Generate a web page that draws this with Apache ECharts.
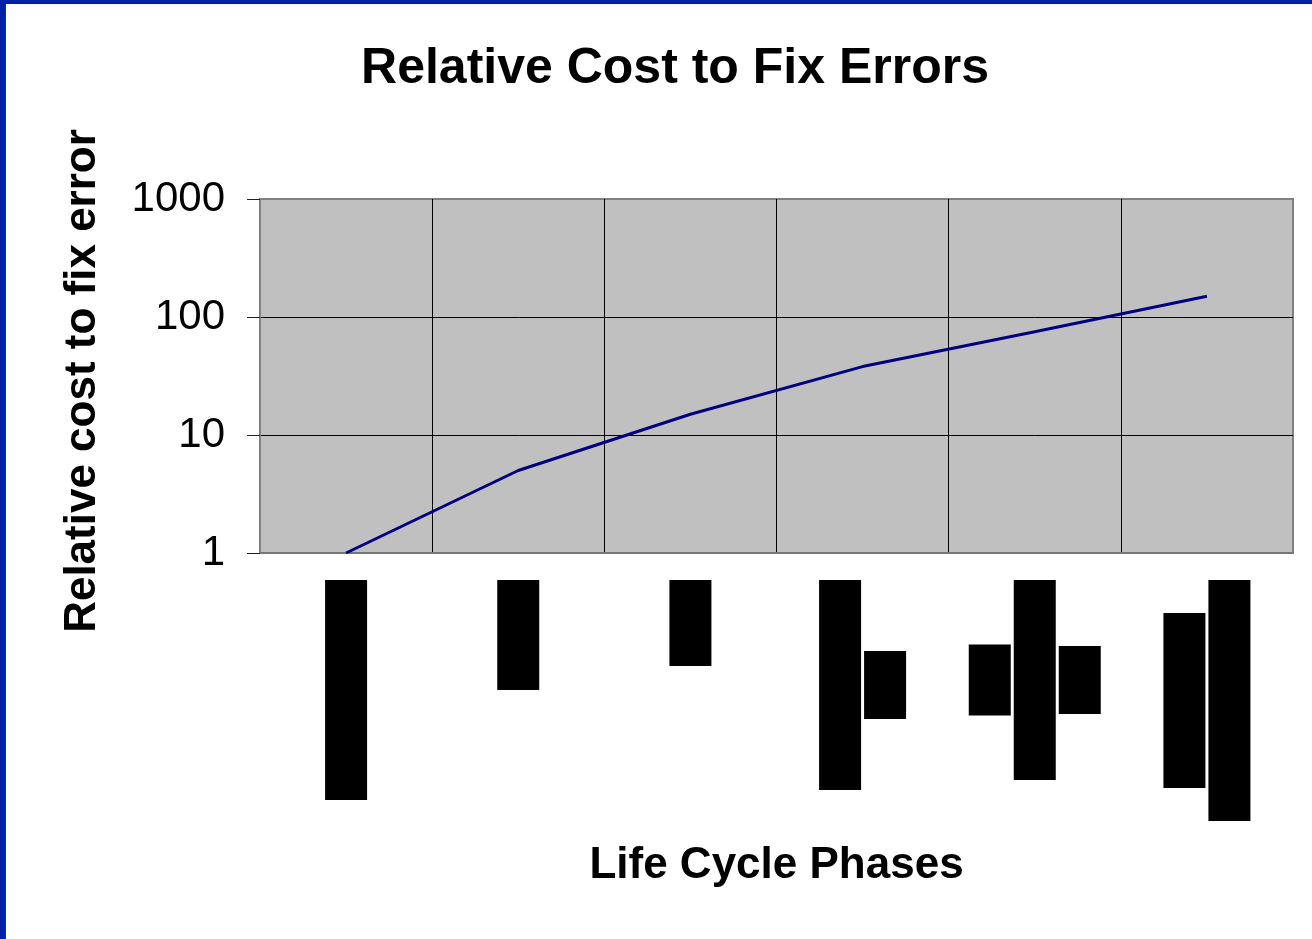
<!DOCTYPE html>
<html>
<head>
<meta charset="utf-8">
<title>Relative Cost to Fix Errors</title>
<script src="https://cdn.jsdelivr.net/npm/echarts@6/dist/echarts.min.js"></script>
<style>
  html, body { margin: 0; padding: 0; background: #fff; }
  #chart { position: absolute; left: 0; top: 0; width: 1312px; height: 939px; }
  /* slide frame: blue band on the left and top */
  .edge-left { position: absolute; left: 0; top: 0; width: 5px; height: 939px; background: #0022a0; border-right: 1px solid #333; }
  .edge-top { position: absolute; left: 0; top: 0; width: 1312px; height: 3px; background: #0022a0; border-bottom: 1px solid #222; }
</style>
</head>
<body>
<div id="chart"></div>
<div class="edge-left"></div>
<div class="edge-top"></div>
<script>
// 数据
const phases = ['Requirements', 'Design', 'Code', 'Development\nTest', 'User\nAcceptance\nTest', 'Operation\nMaintenance']
const relativeCost = [1, 5, 15, 38, 75, 150]
const costTicks = [1, 10, 100, 1000]

// the phase names are blacked out in the picture: one box per label line
const boxWidths = [[220], [110], [86], [210, 68], [71, 200, 68], [175, 241]]

const FONT = "'Liberation Sans', Arial, sans-serif"

const rich = {}
boxWidths.forEach((lines, i) => {
  lines.forEach((w, j) => {
    rich['c' + i + '_' + j] = {
      width: w,
      height: 42,
      lineHeight: 45,
      align: 'center',
      backgroundColor: '#000',
      color: '#000',
      fontSize: 28,
      fontWeight: 'bold',
      fontFamily: FONT
    }
  })
})

const chart = echarts.init(document.getElementById('chart'), null, { renderer: 'canvas' })

const option = {
  backgroundColor: '#fff',
  animation: false,
  title: {
    text: 'Relative Cost to Fix Errors',
    left: 670,
    top: 39,
    textAlign: 'center',
    textStyle: { fontFamily: FONT, fontSize: 50, fontWeight: 'bold', color: '#000' }
  },
  grid: {
    left: 260,
    right: 19,
    top: 199,
    bottom: 386,
    show: true,
    backgroundColor: '#c0c0c0',
    borderColor: '#808080',
    borderWidth: 2
  },
  xAxis: {
    type: 'category',
    data: phases,
    boundaryGap: true,
    name: 'Life Cycle Phases',
    nameLocation: 'middle',
    nameGap: 291,
    nameTextStyle: { fontFamily: FONT, fontSize: 44, fontWeight: 'bold', color: '#000' },
    axisLine: { lineStyle: { color: '#777', width: 2 } },
    axisTick: { length: 7, lineStyle: { color: '#444', width: 1 } },
    splitLine: {
      show: true,
      lineStyle: { color: ['#808080', '#000', '#000', '#000', '#000', '#000', '#808080'], width: 1 }
    },
    axisLabel: {
      interval: 0,
      rotate: 90,
      margin: 27,
      formatter: function (value, index) {
        return value.split('\n').map((line, j) => '{c' + index + '_' + j + '|' + line + '}').join('\n')
      },
      rich: rich
    }
  },
  yAxis: {
    type: 'log',
    logBase: 10,
    min: costTicks[0],
    max: costTicks[costTicks.length - 1],
    name: 'Relative cost to fix error',
    nameLocation: 'middle',
    nameGap: 155,
    nameTextStyle: { fontFamily: FONT, fontSize: 44, fontWeight: 'bold', color: '#000', padding: [0, 10, 0, 0] },
    axisLine: { show: true, lineStyle: { color: '#808080', width: 2 } },
    axisTick: { show: true, length: 13, lineStyle: { color: '#222', width: 1 } },
    splitLine: {
      show: true,
      lineStyle: { color: ['#808080', '#000', '#000', '#808080'], width: 1 }
    },
    axisLabel: {
      margin: 35,
      fontFamily: FONT,
      fontSize: 42,
      color: '#000',
      formatter: value => String(value)
    }
  },
  series: [
    {
      type: 'line',
      data: relativeCost,
      showSymbol: false,
      symbol: 'none',
      lineStyle: { color: '#000080', width: 3 },
      itemStyle: { color: '#000080' }
    }
  ]
}

chart.setOption(option)
</script>
</body>
</html>
